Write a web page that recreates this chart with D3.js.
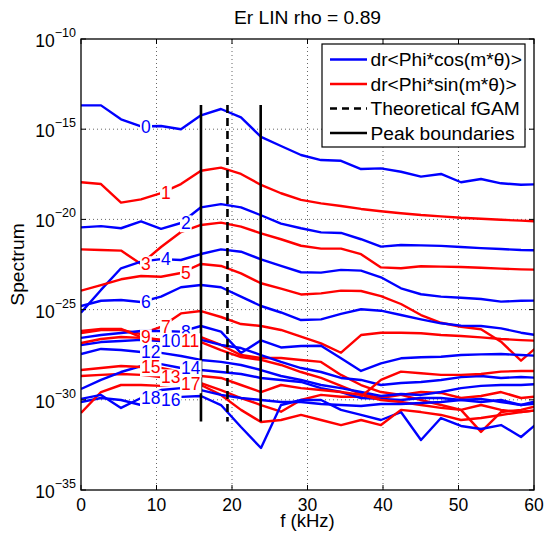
<!DOCTYPE html>
<html><head><meta charset="utf-8">
<script src="https://cdn.jsdelivr.net/npm/d3@7/dist/d3.min.js"></script>
<style>
body{margin:0;background:#fff}
text{font-family:"Liberation Sans",Arial,Helvetica,sans-serif;fill:#000}
</style>
</head><body>
<svg id="chart" width="546" height="539"></svg>
<script>
// Frequencies (kHz) of the spectral points
const freq = [0, 2.65, 5.30, 7.95, 10.60, 13.24, 15.89, 18.54, 21.19, 23.84, 26.49, 29.14,
              31.79, 34.44, 37.09, 39.73, 42.38, 45.03, 47.68, 50.33, 52.98, 55.63, 58.28, 60.93];

// log10(spectrum) for each mode m ; even m -> cos (blue), odd m -> sin (red)
const log_m0  = [-13.68,-13.68,-14.45,-14.85,-14.82,-15.00,-14.23,-13.88,-14.34,-15.43,-15.93,-16.43,-16.71,-16.75,-17.21,-17.17,-17.36,-17.63,-17.48,-17.94,-17.76,-18.00,-18.08,-18.05];
const log_m1  = [-17.94,-18.04,-19.07,-18.89,-18.54,-18.04,-17.30,-17.13,-17.48,-18.09,-18.55,-18.92,-19.11,-19.26,-19.42,-19.55,-19.66,-19.76,-19.83,-19.91,-19.96,-20.02,-20.07,-20.12];
const log_m2  = [-20.44,-20.37,-20.49,-20.11,-20.52,-20.20,-19.33,-19.15,-19.33,-19.77,-20.23,-20.49,-20.72,-20.75,-21.10,-21.51,-21.42,-21.44,-21.47,-21.53,-21.59,-21.64,-21.70,-21.71];
const log_m3  = [-21.66,-21.70,-21.73,-22.47,-21.53,-20.70,-20.31,-20.18,-20.40,-20.77,-21.10,-21.46,-21.62,-21.62,-21.93,-22.66,-22.71,-22.60,-22.62,-22.64,-22.68,-22.73,-22.77,-22.79];
const log_m4  = [-25.17,-23.91,-22.71,-22.34,-22.20,-22.25,-21.92,-21.66,-21.79,-22.21,-22.58,-22.93,-22.95,-22.80,-22.84,-23.21,-23.82,-24.15,-24.28,-24.34,-24.41,-24.56,-24.51,-24.50];
const log_m5  = [-23.95,-23.64,-23.32,-23.14,-23.18,-22.97,-22.47,-22.58,-22.99,-23.54,-23.84,-24.16,-24.10,-23.95,-23.97,-24.25,-24.69,-25.30,-25.73,-25.95,-26.09,-26.78,-27.83,-26.88];
const log_m6  = [-24.80,-24.51,-24.47,-24.58,-24.28,-23.76,-23.64,-23.76,-24.28,-24.80,-25.16,-25.58,-25.54,-25.24,-24.98,-25.06,-25.30,-25.54,-25.76,-25.89,-25.91,-26.04,-26.28,-26.46];
const log_m7  = [-26.30,-26.13,-26.13,-26.35,-25.96,-25.21,-25.08,-25.41,-25.80,-25.91,-26.13,-26.50,-26.87,-27.39,-26.41,-26.28,-26.28,-26.31,-26.41,-26.46,-26.54,-26.63,-26.69,-26.74];
const log_m8  = [-26.57,-26.41,-26.30,-26.19,-26.19,-26.22,-25.91,-26.22,-27.41,-26.70,-27.10,-27.02,-27.00,-27.70,-28.40,-27.98,-27.70,-27.64,-27.61,-27.52,-27.48,-27.46,-27.52,-27.57];
const log_m9  = [-26.19,-26.07,-26.07,-26.52,-26.68,-26.57,-26.52,-26.96,-27.52,-27.68,-27.68,-27.79,-27.90,-28.62,-29.18,-29.57,-29.73,-30.01,-30.29,-30.56,-31.78,-30.68,-30.56,-30.29];
const log_m10 = [-26.96,-26.80,-26.74,-26.68,-26.74,-26.80,-26.68,-26.96,-27.13,-27.52,-27.90,-28.24,-28.46,-28.79,-28.90,-29.18,-29.07,-29.01,-28.90,-28.74,-28.68,-28.79,-28.74,-28.79];
const log_m11 = [-26.85,-26.63,-26.52,-26.57,-26.68,-26.74,-26.80,-27.24,-27.63,-27.79,-28.07,-28.46,-28.79,-29.23,-29.68,-29.90,-29.73,-29.57,-29.62,-29.90,-29.79,-29.57,-29.90,-29.79];
const log_m12 = [-27.46,-27.18,-27.24,-27.35,-27.40,-27.57,-27.79,-27.90,-28.07,-28.35,-28.68,-28.90,-29.18,-29.35,-29.57,-29.79,-29.68,-29.73,-29.57,-29.35,-29.23,-29.18,-29.18,-29.12];
const log_m13 = [-28.68,-28.62,-28.57,-28.62,-28.74,-28.90,-29.07,-29.46,-29.90,-30.29,-30.66,-30.01,-29.73,-29.83,-29.83,-28.90,-28.44,-28.53,-28.62,-28.62,-28.57,-28.44,-28.40,-28.40];
const log_m14 = [-29.40,-28.90,-28.46,-28.13,-28.02,-28.24,-28.35,-28.46,-28.57,-28.79,-28.90,-29.01,-29.35,-29.57,-29.90,-29.95,-30.01,-29.90,-29.90,-30.01,-30.12,-30.01,-30.29,-30.01];
const log_m15 = [-28.35,-28.24,-28.13,-28.18,-28.24,-28.46,-28.68,-28.79,-29.18,-29.57,-29.18,-29.35,-29.46,-29.57,-29.73,-30.01,-30.12,-30.29,-30.45,-30.56,-30.29,-30.56,-30.68,-30.56];
const log_m16 = [-30.12,-29.90,-30.01,-30.29,-30.01,-29.84,-29.79,-30.29,-31.51,-32.67,-30.29,-30.01,-30.01,-30.56,-30.84,-31.12,-30.68,-32.23,-31.01,-31.45,-31.62,-31.40,-32.06,-31.12];
const log_m17 = [-30.73,-29.57,-29.18,-29.18,-29.23,-29.12,-29.18,-29.73,-30.56,-31.23,-31.12,-30.84,-31.12,-31.40,-31.12,-31.40,-30.56,-30.68,-30.84,-31.12,-31.01,-30.84,-30.68,-30.56];
const log_m18 = [-29.95,-29.73,-30.45,-29.90,-29.46,-29.35,-29.46,-29.73,-29.90,-30.01,-30.12,-30.12,-30.23,-30.29,-30.34,-30.23,-30.23,-30.18,-30.12,-30.01,-29.95,-30.12,-30.29,-30.18];

const modes = [0,1,2,3,4,5,6,7,8,9,10,11,12,13,14,15,16,17,18];
const modeLogs = [log_m0,log_m1,log_m2,log_m3,log_m4,log_m5,log_m6,log_m7,log_m8,log_m9,
                  log_m10,log_m11,log_m12,log_m13,log_m14,log_m15,log_m16,log_m17,log_m18];
// index of the point where each mode's label sits
const labelIdx = [3,4,5,3,4,5,3,4,5,3,4,5,3,4,5,3,4,5,3];

const peakBounds = [15.89, 23.8];
const fGAM = 19.4;
const vlineRange = [Math.pow(10,-13.66), Math.pow(10,-31.2)];

const xTicks = [0,10,20,30,40,50,60];
const yTickExp = [-35,-30,-25,-20,-15,-10];
const legendLabels = ["dr<Phi*cos(m*\u03B8)>", "dr<Phi*sin(m*\u03B8)>", "Theoretical fGAM", "Peak boundaries"];
const title = "Er LIN rho = 0.89";

const svg = d3.select("#chart");
const L=81, R=534, T=39, B=490;
const x = d3.scaleLinear().domain([0,60]).range([L,R]);
const y = d3.scaleLog().domain([1e-35,1e-10]).range([B,T]);
const blue = "#0000ff", red = "#ff0000";
const FS_TICK = 17.5, FS_LAB = 19.25, FS_LEG = 19.2, FS_MODE = 17.5;

svg.append("defs").append("clipPath").attr("id","clip")
  .append("rect").attr("x",L).attr("y",T).attr("width",R-L).attr("height",B-T);

// grid
const grid = svg.append("g").attr("stroke","#666").attr("stroke-width",1).attr("stroke-dasharray","1,3");
xTicks.slice(1,-1).forEach(t=>grid.append("line").attr("x1",x(t)).attr("x2",x(t)).attr("y1",T).attr("y2",B));
yTickExp.slice(1,-1).forEach(e=>grid.append("line").attr("x1",L).attr("x2",R).attr("y1",y(Math.pow(10,e))).attr("y2",y(Math.pow(10,e))));

// series
const line = d3.line().x((d,i)=>x(freq[i])).y(d=>y(Math.pow(10,d)));
const plot = svg.append("g").attr("clip-path","url(#clip)");
modes.forEach((m,k)=>{
  plot.append("path").datum(modeLogs[k]).attr("d",line)
    .attr("fill","none").attr("stroke", m%2===0?blue:red).attr("stroke-width",2.4).attr("stroke-linejoin","round");
});

// vertical markers
[peakBounds[0], peakBounds[1]].forEach(f=>{
  svg.append("line").attr("x1",x(f)).attr("x2",x(f)).attr("y1",y(vlineRange[0])).attr("y2",y(vlineRange[1]))
    .attr("stroke","#000").attr("stroke-width",2.6);
});
svg.append("line").attr("x1",x(fGAM)).attr("x2",x(fGAM)).attr("y1",y(vlineRange[0])).attr("y2",y(vlineRange[1]))
  .attr("stroke","#000").attr("stroke-width",2.6).attr("stroke-dasharray","8,5");

// mode labels
const labG = svg.append("g");
modes.forEach((m,k)=>{
  const i = labelIdx[k];
  const px = x(freq[i]), py = y(Math.pow(10, modeLogs[k][i]));
  const t = labG.append("text").attr("x",px).attr("y",py).attr("dy","0.36em")
    .attr("font-size",FS_MODE).style("fill", m%2===0?blue:red).text(m);
  const bb = t.node().getBBox();
  labG.insert("rect", function(){return t.node();})
    .attr("x",bb.x-1).attr("y",bb.y+2).attr("width",bb.width+2).attr("height",bb.height-3).attr("fill","#fff");
});

// frame and ticks
svg.append("rect").attr("x",L).attr("y",T).attr("width",R-L).attr("height",B-T)
  .attr("fill","none").attr("stroke","#000").attr("stroke-width",1.3);
const ax = svg.append("g").attr("stroke","#000").attr("stroke-width",1);
xTicks.forEach(t=>{
  ax.append("line").attr("x1",x(t)).attr("x2",x(t)).attr("y1",B).attr("y2",B-5);
  ax.append("line").attr("x1",x(t)).attr("x2",x(t)).attr("y1",T).attr("y2",T+5);
});
yTickExp.forEach(e=>{
  const yy=y(Math.pow(10,e));
  ax.append("line").attr("x1",L).attr("x2",L+5).attr("y1",yy).attr("y2",yy);
  ax.append("line").attr("x1",R).attr("x2",R-5).attr("y1",yy).attr("y2",yy);
});
// x tick labels
xTicks.forEach(t=>{
  svg.append("text").attr("x",x(t)).attr("y",B+21).attr("text-anchor","middle").attr("font-size",FS_TICK).text(t);
});
// y tick labels
yTickExp.forEach(e=>{
  const yy=y(Math.pow(10,e));
  const t = svg.append("text").attr("x",L-5).attr("y",yy+8).attr("text-anchor","end").attr("font-size",FS_TICK);
  t.append("tspan").text("10");
  t.append("tspan").attr("dy",-10).attr("font-size",12.5).text("\u2212"+Math.abs(e));
});
// axis titles
svg.append("text").attr("x",(L+R)/2).attr("y",527).attr("text-anchor","middle").attr("font-size",18.5).text("f (kHz)");
svg.append("text").attr("transform",`translate(24,${(T+B)/2}) rotate(-90)`).attr("text-anchor","middle").attr("font-size",FS_LAB).text("Spectrum");
svg.append("text").attr("x",(L+R)/2).attr("y",23.5).attr("text-anchor","middle").attr("font-size",FS_LAB).text(title);

// legend
const lg = svg.append("g");
lg.append("rect").attr("x",322).attr("y",44).attr("width",203).attr("height",103).attr("fill","#fff").attr("stroke","#000").attr("stroke-width",1.2);
const legStyles = [{c:blue,d:null},{c:red,d:null},{c:"#000",d:"7,5"},{c:"#000",d:null}];
legendLabels.forEach((lab,i)=>{
  const yy = 59.5 + i*24.5;
  const l = lg.append("line").attr("x1",330).attr("x2",367).attr("y1",yy).attr("y2",yy)
    .attr("stroke",legStyles[i].c).attr("stroke-width",2.4);
  if(legStyles[i].d) l.attr("stroke-dasharray",legStyles[i].d);
  lg.append("text").attr("x",370.5).attr("y",yy).attr("dy","0.36em").attr("font-size",FS_LEG).text(lab);
});
</script>
</body></html>
